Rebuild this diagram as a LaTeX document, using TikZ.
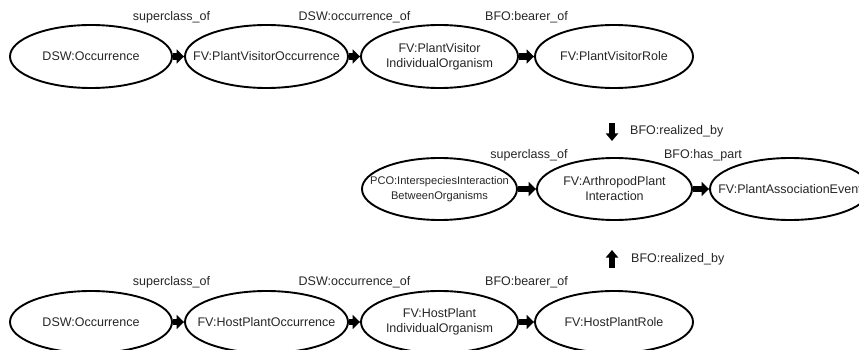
\documentclass[tikz,border=0pt]{standalone}
\usepackage{fontspec}
\setmainfont{Liberation Sans}
\usetikzlibrary{arrows.meta,shapes.geometric}
\begin{document}
\begin{tikzpicture}[x=1pt,y=-1pt,
  oval/.style={ellipse, draw=black, line width=1.9pt, inner sep=0pt, minimum height=62pt},
  txt/.style={font=\fontsize{12.5}{15}\selectfont, text=black!85, align=center, inner sep=0pt},
  small/.style={font=\fontsize{11.1}{15}\selectfont},
  conn/.style={line width=6.5pt, -{Triangle[length=7.5pt,width=14pt]}},
  vconn/.style={line width=5.5pt, -{Triangle[length=7.5pt,width=12pt]}},
  lbl/.style={txt, midway, yshift=#1},
]
\useasboundingbox (0,0) rectangle (859,350);
\clip (0,0) rectangle (859,350);

% plant visitor chain
\node[oval, minimum width=162pt, minimum height=63pt, label={[txt]center:{DSW:Occurrence}}] (a1) at (91,56.5) {};
\node[oval, minimum width=163pt, minimum height=63pt, label={[txt]center:{FV:PlantVisitorOccurrence}}] (a2) at (266.5,56.5) {};
\node[oval, minimum width=157pt, minimum height=63pt, label={[txt]center:{FV:PlantVisitor\\IndividualOrganism}}] (a3) at (439.5,56.5) {};
\node[oval, minimum width=158pt, minimum height=63pt, label={[txt]center:{FV:PlantVisitorRole}}] (a4) at (614,56.5) {};
\draw[conn] (a1) -- node[lbl=39.5pt, xshift=-7pt] {superclass\_of} (a2);
\draw[conn] (a2) -- node[lbl=39.5pt] {DSW:occurrence\_of} (a3);
\draw[conn] (a3) -- node[lbl=39.5pt] {BFO:bearer\_of} (a4);

% realized_by, downward
\coordinate (d1) at (612,123);
\coordinate (d2) at (612,141);
\draw[vconn] (d1) -- (d2);
\node[txt, anchor=west] (r1) at (630,131) {BFO:realized\_by};

% interaction chain
\node[oval, minimum width=155pt, label={[txt,small]center:{PCO:InterspeciesInteraction\\BetweenOrganisms}}] (m1) at (439.5,189) {};
\node[oval, minimum width=155pt, label={[txt]center:{FV:ArthropodPlant\\Interaction}}] (m2) at (614.5,189) {};
\node[oval, minimum width=160pt, label={[txt]center:{FV:PlantAssociationEvent}}] (m3) at (790,189) {};
\draw[conn] (m1) -- node[lbl=34pt, xshift=2pt] {superclass\_of} (m2);
\draw[conn] (m2) -- node[lbl=34pt, xshift=2pt] {BFO:has\_part} (m3);

% realized_by, upward
\coordinate (u1) at (612,268);
\coordinate (u2) at (612,250);
\draw[vconn] (u1) -- (u2);
\node[txt, anchor=west] (r2) at (631,259) {BFO:realized\_by};

% host plant chain
\node[oval, minimum width=162pt, label={[txt]center:{DSW:Occurrence}}] (b1) at (91,322) {};
\node[oval, minimum width=163pt, label={[txt]center:{FV:HostPlantOccurrence}}] (b2) at (266.5,322) {};
\node[oval, minimum width=157pt, label={[txt]center:{FV:HostPlant\\IndividualOrganism}}] (b3) at (439.5,322) {};
\node[oval, minimum width=158pt, label={[txt]center:{FV:HostPlantRole}}] (b4) at (614,322) {};
\draw[conn] (b1) -- node[lbl=40pt, xshift=-7pt] {superclass\_of} (b2);
\draw[conn] (b2) -- node[lbl=40pt] {DSW:occurrence\_of} (b3);
\draw[conn] (b3) -- node[lbl=40pt] {BFO:bearer\_of} (b4);
\end{tikzpicture}
\end{document}
